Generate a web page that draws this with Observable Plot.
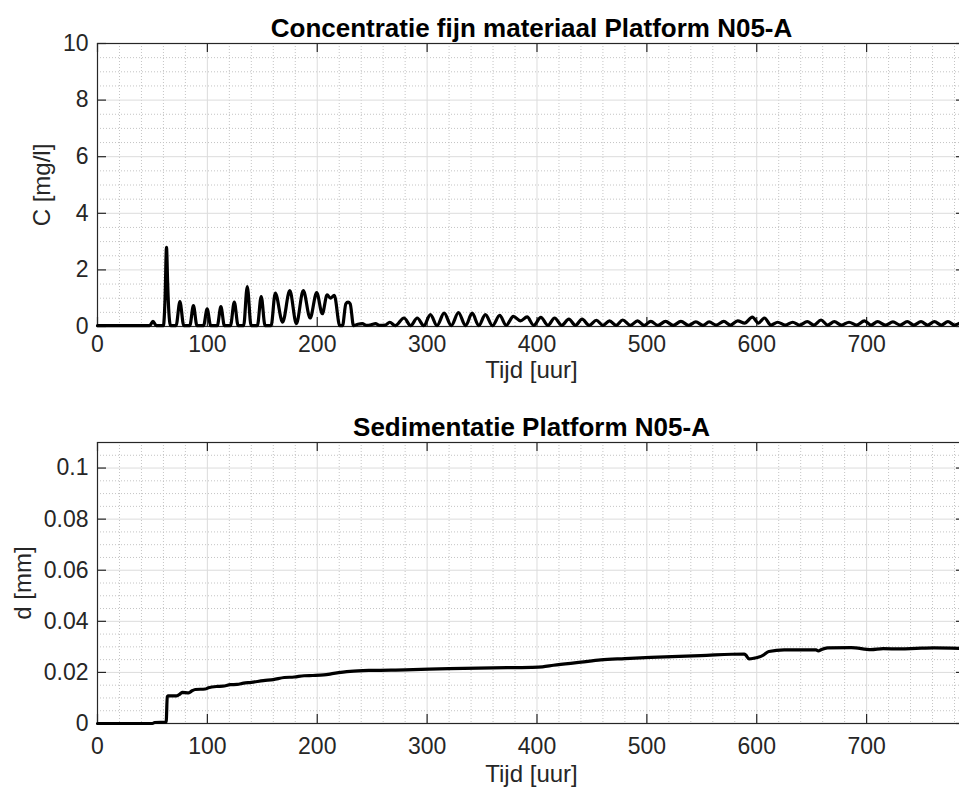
<!DOCTYPE html>
<html>
<head>
<meta charset="utf-8">
<script src="https://cdn.jsdelivr.net/npm/d3@7"></script>
<script src="https://cdn.jsdelivr.net/npm/@observablehq/plot@0.6"></script>
<style>
  html, body { margin: 0; padding: 0; background: #fff; overflow: hidden; width: 959px; height: 794px; }
  #chart svg { display: block; }
</style>
</head>
<body>
<div id="chart"></div>
<script>
// ---- Data ----
const titleTop = "Concentratie fijn materiaal Platform N05-A";
const titleBottom = "Sedimentatie Platform N05-A";
const xLabel = "Tijd [uur]";
const yLabelTop = "C [mg/l]";
const yLabelBottom = "d [mm]";

// concentration: time [h]
const concT = [0, 47.5, 50.5, 53.5, 60, 61.5, 62.8, 63.8, 64.8, 66.5,
  71.5, 75, 78.5, 84, 87.3, 90.5, 96.5, 99.8, 103, 109, 112.3, 115.5,
  121, 124.5, 128, 133, 136.3, 139.8, 145.5, 149, 152.5, 158, 161.8,
  168.5, 175, 181, 187.3, 193.5, 199.5, 204.6, 209, 212, 215.5, 220.5,
  223, 226, 228, 230, 233, 237, 241, 245, 249, 253, 257, 262, 266, 271,
  279, 285, 291, 297, 303, 309, 315.5, 322, 328.5, 335, 341, 347, 353, 359.5, 366, 372,
  378.5, 385, 391, 397, 403.5, 410, 416, 422.5, 429, 435, 441, 447.5, 454, 460,
  466, 472, 478, 485, 491.5, 497.5, 503.6, 510, 517, 524, 531, 538, 544.6, 551, 556.7, 563,
  570, 576, 582.6, 589, 596, 601.5, 607, 613, 619, 626, 632.7, 639, 646, 652, 658.5, 664.5,
  670.6, 677, 684, 691, 698, 704, 710, 717, 724, 730.5, 737, 743, 749.5, 755.5, 761.7, 768, 774, 780, 786];
// concentration: value [mg/l]
const concC = [0.03, 0.03, 0.18, 0.03, 0.03, 1.0, 2.8, 1.6, 0.6, 0.03,
  0.03, 0.88, 0.03, 0.03, 0.74, 0.03, 0.03, 0.62, 0.03, 0.03, 0.70, 0.03,
  0.03, 0.86, 0.03, 0.03, 1.41, 0.03, 0.03, 1.06, 0.03, 0.03, 1.18,
  0.15, 1.27, 0.1, 1.27, 0.3, 1.2, 0.45, 1.12, 1.0, 1.1, 0.03,
  0.03, 0.8, 0.86, 0.8, 0.03, 0.08, 0.1, 0.04, 0.06, 0.1, 0.04, 0.05, 0.15, 0.03,
  0.3, 0.03, 0.3, 0.03, 0.42, 0.03, 0.47, 0.03, 0.49, 0.03, 0.47, 0.03, 0.42, 0.03, 0.39, 0.04,
  0.36, 0.2, 0.34, 0.04, 0.32, 0.04, 0.3, 0.04, 0.26, 0.04, 0.26, 0.04, 0.22, 0.04,
  0.2, 0.04, 0.23, 0.04, 0.2, 0.04, 0.18, 0.04, 0.18, 0.04, 0.18, 0.04, 0.16, 0.04, 0.16, 0.05,
  0.18, 0.05, 0.2, 0.12, 0.33, 0.12, 0.3, 0.05, 0.15, 0.05, 0.15, 0.05, 0.17, 0.05, 0.23, 0.05,
  0.17, 0.05, 0.15, 0.05, 0.2, 0.05, 0.17, 0.05, 0.16, 0.05, 0.17, 0.05, 0.17, 0.05, 0.17, 0.05, 0.17, 0.05, 0.15];

// sedimentation: time [h]
const sedT = [0, 50, 52, 62.5, 63.5, 64.5, 72, 75, 77, 83, 86, 89, 98, 101, 109, 114, 121, 127, 133, 140, 151, 160, 170, 179, 188, 196, 206, 215, 230,
  250, 280, 320, 360, 395, 405, 415, 440, 458, 480, 503.6, 549, 588.6, 590, 593, 598, 602, 606, 611, 625, 654, 656, 659,
  664.5, 686, 704, 715, 731, 745, 761, 786];
// sedimentation: value [mm]
const sedD = [0, 0, 0.0004, 0.0005, 0.0105, 0.0108, 0.0108, 0.0115, 0.0122, 0.012, 0.0128, 0.0133, 0.0135, 0.014, 0.0145,
  0.0146, 0.0152, 0.0153, 0.0158, 0.0161, 0.0168, 0.0172, 0.018, 0.0182, 0.0187, 0.0188, 0.019, 0.0196, 0.0204,
  0.0208, 0.021, 0.0215, 0.0218, 0.022, 0.0222, 0.0228, 0.024, 0.0249, 0.0254, 0.0259, 0.0266, 0.0272, 0.0268, 0.0253,
  0.0256, 0.026, 0.0268, 0.0282, 0.0288, 0.0288, 0.0284, 0.029,
  0.0296, 0.0297, 0.0289, 0.0293, 0.0292, 0.0294, 0.0296, 0.0294];

// tick labels
const xTicks = [0, 100, 200, 300, 400, 500, 600, 700];
const yTicksTop = [0, 2, 4, 6, 8, 10];
const yTicksBottom = [0, 0.02, 0.04, 0.06, 0.08, 0.1];

// ---- Build tables ----
const conc = concT.map((t, i) => ({t, c: concC[i]}));
const sed = sedT.map((t, i) => ({t, d: sedD[i]}));

const xMinor = d3.range(20, 790, 20).filter(v => v % 100 !== 0);
const yMinorTop = d3.range(0.5, 10, 0.5).filter(v => v % 2 !== 0);
const yMinorBottom = d3.range(1, 23).map(i => i * 0.005).filter((v, i) => (i + 1) % 4 !== 0);

const FONT = "'Liberation Sans', Arial, Helvetica, sans-serif";
const AX = "#262626";
const WIDTH = 967;

function panel({data, yKey, yDomain, yTicks, yMinor, yFmt, height, marginTop, marginBottom, title, yLabel, yLabelDx, xLabelDy, xTickPad, frameH}) {
  return Plot.plot({
    width: WIDTH,
    height,
    marginLeft: 97,
    marginRight: 2,
    marginTop,
    marginBottom,
    style: {fontFamily: FONT, color: AX, background: "white", maxWidth: "none", overflow: "visible"},
    x: {domain: [0, 790], label: null},
    y: {domain: yDomain, label: null},
    marks: [
      Plot.ruleX(xMinor, {stroke: "#c4c4c4", strokeWidth: 1, strokeDasharray: "1,2"}),
      Plot.ruleY(yMinor, {stroke: "#c4c4c4", strokeWidth: 1, strokeDasharray: "1,2"}),
      Plot.ruleX(xTicks, {stroke: "#dcdcdc", strokeWidth: 1}),
      Plot.ruleY(yTicks, {stroke: "#dcdcdc", strokeWidth: 1}),
      Plot.frame({stroke: AX, strokeWidth: 1.2}),
      // inward ticks
      Plot.tickX(xTicks, {x: d => d, stroke: AX, strokeWidth: 1.2, insetTop: frameH - 9}),
      Plot.tickX(xTicks, {x: d => d, stroke: AX, strokeWidth: 1.2, insetBottom: frameH - 9}),
      Plot.tickY(yTicks, {y: d => d, stroke: AX, strokeWidth: 1.2, insetRight: 868 - 9}),
      Plot.tickY(yTicks, {y: d => d, stroke: AX, strokeWidth: 1.2, insetLeft: 868 - 9}),
      Plot.axisX(xTicks, {anchor: "bottom", tickSize: 0, tickPadding: xTickPad, fontSize: 23, label: null, fill: AX}),
      Plot.axisY(yTicks, {anchor: "left", tickSize: 0, tickPadding: 9, fontSize: 23, label: null, tickFormat: yFmt, fill: AX}),
      Plot.line(data, {x: "t", y: yKey, stroke: "black", strokeWidth: 3.2, curve: "monotone-x", strokeLinejoin: "round", strokeLinecap: "round"}),
      Plot.text([title], {frameAnchor: "top", lineAnchor: "middle", textAnchor: "middle", dy: -15, fontSize: 26, fontWeight: "bold", fill: "black"}),
      Plot.text([xLabel], {frameAnchor: "bottom", lineAnchor: "middle", textAnchor: "middle", dy: xLabelDy, fontSize: 24, fill: AX}),
      Plot.text([yLabel], {frameAnchor: "left", lineAnchor: "middle", textAnchor: "middle", dx: yLabelDx, rotate: -90, fontSize: 24, fill: AX})
    ]
  });
}

const panelTop = panel({
  data: conc, yKey: "c", yDomain: [0, 10], yTicks: yTicksTop, yMinor: yMinorTop, yFmt: d => String(d),
  height: 395, marginTop: 43, marginBottom: 69, title: titleTop, yLabel: yLabelTop, yLabelDx: -55, xLabelDy: 44, xTickPad: 9, frameH: 283
});
const panelBottom = panel({
  data: sed, yKey: "d", yDomain: [0, 0.11], yTicks: yTicksBottom, yMinor: yMinorBottom, yFmt: d => String(d),
  height: 399, marginTop: 47, marginBottom: 71, title: titleBottom, yLabel: yLabelBottom, yLabelDx: -74, xLabelDy: 51, xTickPad: 14, frameH: 281
});
document.getElementById("chart").append(panelTop, panelBottom);
</script>
</body>
</html>
